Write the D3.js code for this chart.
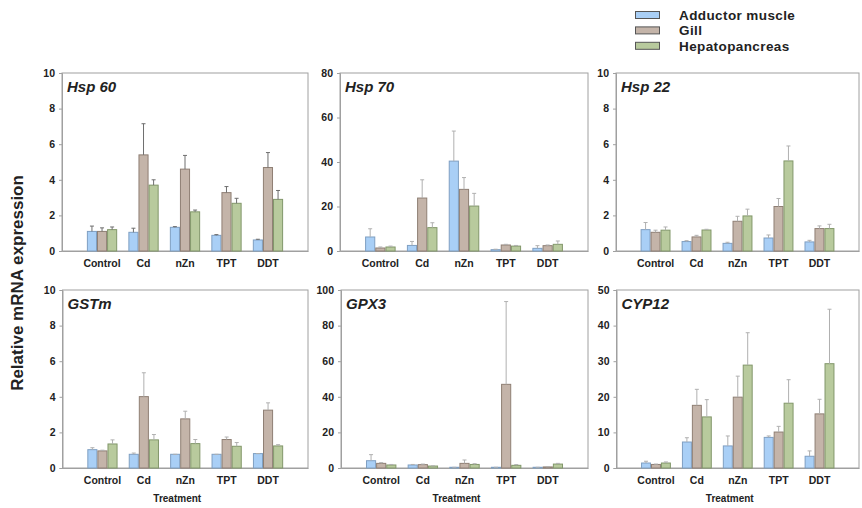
<!DOCTYPE html>
<html>
<head>
<meta charset="utf-8">
<script src="https://cdn.jsdelivr.net/npm/d3@7"></script>
<style>
  html, body { margin: 0; padding: 0; background: #fff; }
  svg { display: block; font-family: "Liberation Sans", Arial, sans-serif; }
</style>
</head>
<body>
<svg id="chart" width="862" height="508"></svg>
<script>
const categories = ["Control", "Cd", "nZn", "TPT", "DDT"];
const tissues = ["Adductor muscle", "Gill", "Hepatopancreas"];

// mean values per tissue [adductor, gill, hepatopancreas]
const hsp60Mean = [[1.1, 1.05, 1.33, 0.88, 0.62], [1.1, 5.4, 4.6, 3.28, 4.69], [1.2, 3.7, 2.2, 2.68, 2.9]];
const hsp60Err  = [[0.3, 0.23, 0.04, 0.04, 0.04], [0.2, 1.75, 0.77, 0.34, 0.84], [0.15, 0.3, 0.1, 0.28, 0.5]];
const hsp70Mean = [[6.3, 2.5, 40.4, 0.6, 1.2], [1.35, 23.8, 27.7, 2.7, 2.4], [1.8, 10.5, 20.2, 2.2, 3.0]];
const hsp70Err  = [[3.7, 1.8, 13.5, 0.2, 1.2], [0.45, 8.2, 5.3, 0.3, 0.3], [0.4, 2.2, 5.7, 0.3, 1.5]];
const hsp22Mean = [[1.2, 0.53, 0.43, 0.73, 0.51], [1.05, 0.79, 1.67, 2.5, 1.26], [1.17, 1.18, 1.97, 5.06, 1.26]];
const hsp22Err  = [[0.4, 0.05, 0.06, 0.17, 0.09], [0.12, 0.09, 0.28, 0.45, 0.15], [0.18, 0.04, 0.38, 0.84, 0.24]];
const gstmMean  = [[1.03, 0.77, 0.77, 0.77, 0.81], [0.96, 4.01, 2.76, 1.6, 3.25], [1.35, 1.58, 1.37, 1.22, 1.24]];
const gstmErr   = [[0.11, 0.07, 0.0, 0.0, 0.0], [0.04, 1.34, 0.43, 0.14, 0.41], [0.23, 0.3, 0.23, 0.21, 0.07]];
const gpx3Mean  = [[4.1, 1.7, 0.4, 0.4, 0.4], [2.6, 1.9, 2.6, 47, 0.6], [1.7, 1.1, 2.0, 1.5, 2.2]];
const gpx3Err   = [[3.4, 0.3, 0, 0, 0], [0.4, 0.3, 1.9, 46.5, 0.1], [0.3, 0.1, 0.4, 0.4, 0.4]];
const cyp12Mean = [[1.4, 7.3, 6.2, 8.6, 3.3], [1.0, 17.6, 19.9, 10.1, 15.2], [1.4, 14.35, 28.9, 18.2, 29.3]];
const cyp12Err  = [[0.5, 1.2, 2.8, 0.4, 1.5], [0.1, 4.5, 5.9, 1.6, 4.1], [0.3, 4.85, 9.1, 6.6, 15.3]];

const geneNames = ["Hsp 60", "Hsp 70", "Hsp 22", "GSTm", "GPX3", "CYP12"];
const yMaxes = [10, 80, 10, 10, 100, 50];
const yTickSteps = [2, 20, 2, 2, 20, 10];
const xAxisTitle = "Treatment";
const yAxisTitle = "Relative mRNA expression";

const means = [hsp60Mean, hsp70Mean, hsp22Mean, gstmMean, gpx3Mean, cyp12Mean];
const errs = [hsp60Err, hsp70Err, hsp22Err, gstmErr, gpx3Err, cyp12Err];

const fills = ["#a9cff6", "#c4b4a9", "#b8ca9d"];
const strokes = ["#7f9fc2", "#8f7f74", "#82976a"];

const panels = [
  {x0: 62, x1: 308, top: 73, bottom: 251, errColor: "#6e6e6e", row: 0},
  {x0: 340, x1: 588, top: 73, bottom: 251, errColor: "#b0b0b0", row: 0},
  {x0: 616, x1: 859, top: 73, bottom: 251, errColor: "#b0b0b0", row: 0},
  {x0: 62.5, x1: 308, top: 290, bottom: 468, errColor: "#b0b0b0", row: 1},
  {x0: 341, x1: 588, top: 290, bottom: 468, errColor: "#b0b0b0", row: 1},
  {x0: 616.5, x1: 859, top: 290, bottom: 468, errColor: "#b0b0b0", row: 1}
];

const svg = d3.select("#chart");
const textColor = "#222";
const frameColor = "#a0a0a0";

panels.forEach((p, i) => {
  const g = svg.append("g");
  const x = d3.scaleBand().domain(categories).range([p.x0, p.x1]).paddingInner(0.27).paddingOuter(0.6);
  const xs = d3.scaleBand().domain(d3.range(tissues.length)).range([0, x.bandwidth()]);
  const y = d3.scaleLinear().domain([0, yMaxes[i]]).range([p.bottom, p.top]);

  // frame
  g.append("rect")
    .attr("x", p.x0).attr("y", p.top)
    .attr("width", p.x1 - p.x0).attr("height", p.bottom - p.top)
    .attr("fill", "none").attr("stroke", frameColor).attr("stroke-width", 1);

  // y axis
  const yAxis = d3.axisLeft(y)
    .tickValues(d3.range(0, yMaxes[i] + 0.001, yTickSteps[i]))
    .tickSize(3).tickPadding(4).tickFormat(d3.format("d"));
  const ya = g.append("g").attr("transform", `translate(${p.x0},0)`).call(yAxis);
  ya.select(".domain").attr("stroke", frameColor);
  ya.selectAll(".tick line").attr("stroke", frameColor);
  ya.selectAll(".tick text")
    .attr("fill", textColor).style("font-size", "10.5px").style("font-weight", "bold")
    .style("font-family", "'Liberation Sans', Arial, sans-serif");

  // x axis
  const xAxis = d3.axisBottom(x).tickSize(0).tickPadding(9);
  const xa = g.append("g").attr("transform", `translate(0,${p.bottom})`).call(xAxis);
  xa.select(".domain").attr("stroke", frameColor);
  xa.selectAll(".tick text")
    .attr("fill", textColor).style("font-size", "10.5px").style("font-weight", "bold")
    .style("font-family", "'Liberation Sans', Arial, sans-serif");

  // bars
  tissues.forEach((t, s) => {
    const vals = means[i][s];
    const ev = errs[i][s];
    const bw = xs.bandwidth();
    g.selectAll(null).data(categories).enter().append("rect")
      .attr("x", (c) => x(c) + xs(s) + 0.5)
      .attr("y", (c, k) => y(vals[k]))
      .attr("width", bw - 1)
      .attr("height", (c, k) => y(0) - y(vals[k]))
      .attr("fill", fills[s]).attr("stroke", strokes[s]).attr("stroke-width", 1);
    // error bars (upper only)
    const eb = g.selectAll(null).data(categories).enter().append("g");
    eb.append("line")
      .attr("x1", (c) => x(c) + xs(s) + bw / 2)
      .attr("x2", (c) => x(c) + xs(s) + bw / 2)
      .attr("y1", (c, k) => y(vals[k]))
      .attr("y2", (c, k) => y(vals[k] + ev[k]))
      .attr("stroke", p.errColor).attr("stroke-width", 1);
    eb.append("line")
      .attr("x1", (c) => x(c) + xs(s) + bw / 2 - 2)
      .attr("x2", (c) => x(c) + xs(s) + bw / 2 + 2)
      .attr("y1", (c, k) => y(vals[k] + ev[k]))
      .attr("y2", (c, k) => y(vals[k] + ev[k]))
      .attr("stroke", p.errColor).attr("stroke-width", 1);
  });

  // gene title
  g.append("text")
    .attr("x", p.x0 + 5).attr("y", p.top + 19)
    .attr("fill", textColor)
    .style("font-size", "15px").style("font-weight", "bold").style("font-style", "italic")
    .text(geneNames[i]);

  if (p.row === 1) {
    g.append("text")
      .attr("x", (p.x0 + p.x1) / 2 - 8).attr("y", 502)
      .attr("text-anchor", "middle").attr("fill", textColor)
      .style("font-size", "10px").style("font-weight", "bold")
      .text(xAxisTitle);
  }
});

// y axis title
svg.append("text")
  .attr("transform", "translate(23,283) rotate(-90)")
  .attr("text-anchor", "middle").attr("fill", textColor)
  .style("font-size", "17px").style("font-weight", "bold")
  .text(yAxisTitle);

// legend
const legend = svg.append("g");
tissues.forEach((t, s) => {
  const ly = 15 + s * 15.4;
  legend.append("rect")
    .attr("x", 635.5).attr("y", ly - 3.5).attr("width", 24).attr("height", 7)
    .attr("fill", fills[s]).attr("stroke", "#555").attr("stroke-width", 1);
  legend.append("text")
    .attr("x", 679).attr("y", ly + 5)
    .attr("fill", textColor)
    .style("font-size", "13.5px").style("font-weight", "bold").style("letter-spacing", "0.4px")
    .text(t);
});
</script>
</body>
</html>
